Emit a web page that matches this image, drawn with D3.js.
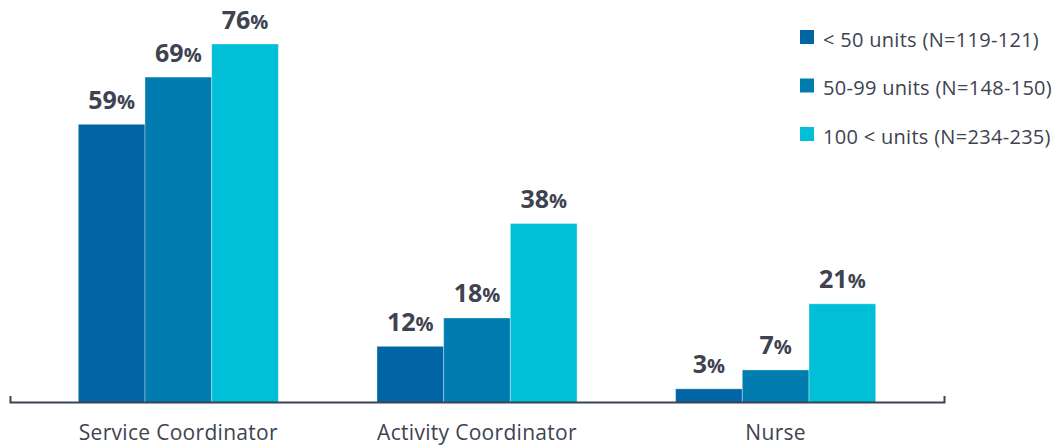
<!DOCTYPE html>
<html>
<head>
<meta charset="utf-8">
<script src="https://cdn.jsdelivr.net/npm/d3@7"></script>
<style>
  html, body { margin: 0; padding: 0; background: #ffffff; }
  svg { display: block; }
  text { font-family: "Open Sans", "Noto Sans", sans-serif; }
</style>
</head>
<body>
<svg id="chart" width="1064" height="446"></svg>
<script>
const categories = ["Service Coordinator", "Activity Coordinator", "Nurse"];
const seriesNames = ["< 50 units (N=119-121)", "50-99 units (N=148-150)", "100 < units (N=234-235)"];
const lt50 = [59, 12, 3];
const u50to99 = [69, 18, 7];
const gt100 = [76, 38, 21];
const seriesValues = [lt50, u50to99, gt100];
const colors = ["#0064a5", "#007cb1", "#00bfd7"];

const textColor = "#3d4351";
const svg = d3.select("#chart");

const baseY = 402.5;
const x = d3.scaleBand().domain(categories).range([10, 944])
  .paddingInner(0.33).paddingOuter(0.2287);
const xs = d3.scaleBand().domain(d3.range(seriesNames.length)).range([0, x.bandwidth()]);
const y = d3.scaleLinear().domain([0, 76]).range([403, 44]);

const data = [];
categories.forEach((c, ci) => {
  seriesValues.forEach((vals, si) => data.push({ c, si, v: vals[ci] }));
});

// bars
svg.append("g").selectAll("rect").data(data).join("rect")
  .attr("x", d => x(d.c) + xs(d.si))
  .attr("y", d => y(d.v))
  .attr("width", xs.bandwidth())
  .attr("height", d => y(0) - y(d.v))
  .attr("fill", d => colors[d.si])
  .attr("stroke", "rgba(255,255,255,0.35)")
  .attr("stroke-width", 1);

// value labels
const lbl = svg.append("g").selectAll("text").data(data).join("text")
  .attr("x", d => x(d.c) + xs(d.si) + xs.bandwidth() / 2)
  .attr("y", d => y(d.v) - 15.5)
  .attr("text-anchor", "middle")
  .attr("fill", textColor)
  .attr("font-weight", 700)
  .attr("font-size", "25px");
lbl.append("tspan").text(d => d.v);
lbl.append("tspan").attr("font-size", "20px").text("%");

// axis
const axis = svg.append("g")
  .attr("transform", `translate(0,${baseY - 0.5})`)
  .call(d3.axisBottom(x).tickSizeInner(0).tickSizeOuter(-6).tickPadding(23));
axis.select(".domain").attr("stroke", textColor).attr("stroke-width", 2);
axis.selectAll(".tick line").remove();
axis.selectAll(".tick text")
  .attr("fill", textColor)
  .attr("font-size", "21px")
  .attr("letter-spacing", "0.3px")
  .attr("font-family", "'Open Sans', sans-serif");

// legend
const lg = svg.append("g").selectAll("g").data(seriesNames).join("g")
  .attr("transform", (d, i) => `translate(800,${30 + i * 48.5})`);
lg.append("rect").attr("width", 14).attr("height", 14)
  .attr("fill", (d, i) => colors[i]);
lg.append("text").attr("x", 23).attr("y", 16.5)
  .attr("fill", textColor).attr("font-size", "20px")
  .attr("letter-spacing", "0.3px")
  .text(d => d);
</script>
</body>
</html>
